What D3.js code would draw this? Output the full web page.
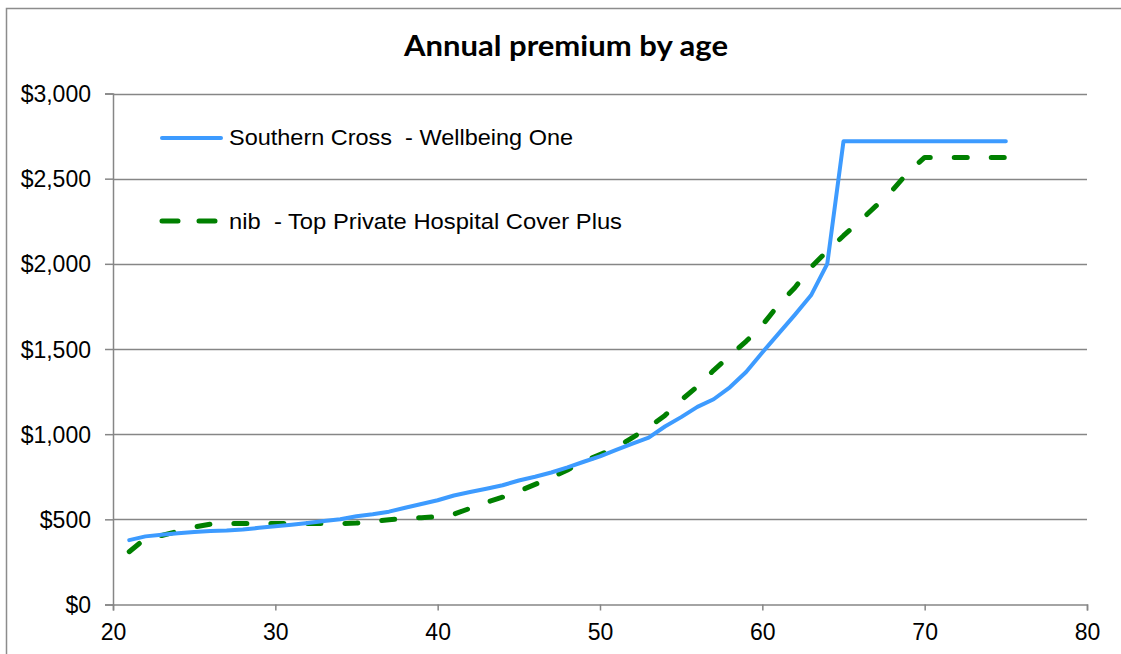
<!DOCTYPE html>
<html><head><meta charset="utf-8">
<script src="https://cdn.jsdelivr.net/npm/d3@7"></script>
<style>html,body{margin:0;padding:0;background:#fff;}</style>
</head><body>
<svg id="chart" width="1121" height="654"></svg>
<script>
const ages = d3.range(21, 76);
const southernCross = [378,400,410,418,425,432,434,440,450,460,468,478,490,500,518,530,545,568,590,612,640,660,680,700,728,750,775,805,838,870,
  908,945,980,1045,1100,1160,1205,1275,1365,1480,1590,1700,1815,2000,
  2720,2720,2720,2720,2720,2720,2720,2720,2720,2720,2720];
const nib = [310,388,405,430,455,472,475,475,475,475,475,475,475,475,478,488,498,505,510,515,530,565,600,630,665,705,745,790,840,880,
  920,980,1040,1110,1200,1280,1375,1460,1545,1640,1760,1860,1980,2075,
  2165,2250,2340,2430,2540,2625,2625,2625,2625,2625,2625];
const xTicks = [20,30,40,50,60,70,80];
const yTicks = [0,500,1000,1500,2000,2500,3000];
const seriesNames = ["Southern Cross  - Wellbeing One", "nib  - Top Private Hospital Cover Plus"];
const titleText = "Annual premium by age";

(function(){
const svg = d3.select("#chart");
const pL = 113, pR = 1087, pT = 93.5, pB = 604.5;
const x = d3.scaleLinear().domain([20, 80]).range([pL, pR]);
const y = d3.scaleLinear().domain([0, 3000]).range([pB, pT]);
const font = "'Liberation Sans', Arial, sans-serif";

// outer border
svg.append("path").attr("d", "M6.5,654 V8.5 H1121").attr("fill","none").attr("stroke","#8c8c8c").attr("stroke-width",1.5);

// gridlines
svg.append("g").selectAll("line").data(yTicks.filter(d=>d>0)).join("line")
  .attr("x1", pL).attr("x2", pR).attr("y1", d=>Math.round(y(d))+0.5).attr("y2", d=>Math.round(y(d))+0.5)
  .attr("stroke","#868686").attr("stroke-width",1.5);

const fmt = d => "$" + d3.format(",")(d);
const yAxis = svg.append("g").attr("transform", `translate(${pL},0)`)
  .call(d3.axisLeft(y).tickValues(yTicks).tickFormat(fmt).tickSize(8).tickPadding(14));
const xAxis = svg.append("g").attr("transform", `translate(0,${pB})`)
  .call(d3.axisBottom(x).tickValues(xTicks).tickSize(6).tickPadding(13));
[yAxis, xAxis].forEach(a => {
  a.select(".domain").attr("stroke","#868686").attr("stroke-width",1.5);
  a.selectAll(".tick line").attr("stroke","#868686").attr("stroke-width",1.5);
  a.selectAll(".tick text").attr("fill","#000").style("font-family",font).style("font-size","23px");
});
yAxis.selectAll(".tick text").attr("dy","0.35em");

const lineGen = vals => d3.line().x((d,i)=>x(ages[i])).y(d=>y(d))(vals);
svg.append("path").attr("d", lineGen(nib)).attr("fill","none").attr("stroke","#008000")
  .attr("stroke-width",5).attr("stroke-linecap","round").attr("stroke-linejoin","round").attr("stroke-dasharray","13,24");
svg.append("path").attr("d", lineGen(southernCross)).attr("fill","none").attr("stroke","#3d9bff")
  .attr("stroke-width",4).attr("stroke-linecap","round").attr("stroke-linejoin","round");

// title
svg.append("text").attr("x", 566).attr("y", 56).attr("text-anchor","middle")
  .style("font-family","Lato, 'Open Sans', sans-serif").style("font-weight","bold").style("font-size","28px")
  .attr("textLength", 324).attr("lengthAdjust","spacingAndGlyphs").text(titleText);

// legend
const lg = svg.append("g");
lg.append("line").attr("x1",162).attr("x2",221).attr("y1",138).attr("y2",138)
  .attr("stroke","#3d9bff").attr("stroke-width",4).attr("stroke-linecap","round");
lg.append("line").attr("x1",162).attr("x2",221).attr("y1",221).attr("y2",221)
  .attr("stroke","#008000").attr("stroke-width",5).attr("stroke-linecap","round").attr("stroke-dasharray","16,21");
const legendWidths = [344, 393];
lg.selectAll("text").data(seriesNames).join("text")
  .attr("x", 229).attr("y", (d,i)=> i===0 ? 145 : 228.5)
  .style("font-family",font).style("font-size","22.5px").attr("fill","#000")
  .style("white-space","pre").attr("xml:space","preserve")
  .attr("textLength",(d,i)=>legendWidths[i]).attr("lengthAdjust","spacingAndGlyphs").text(d=>d);
})();
</script>
</body></html>
